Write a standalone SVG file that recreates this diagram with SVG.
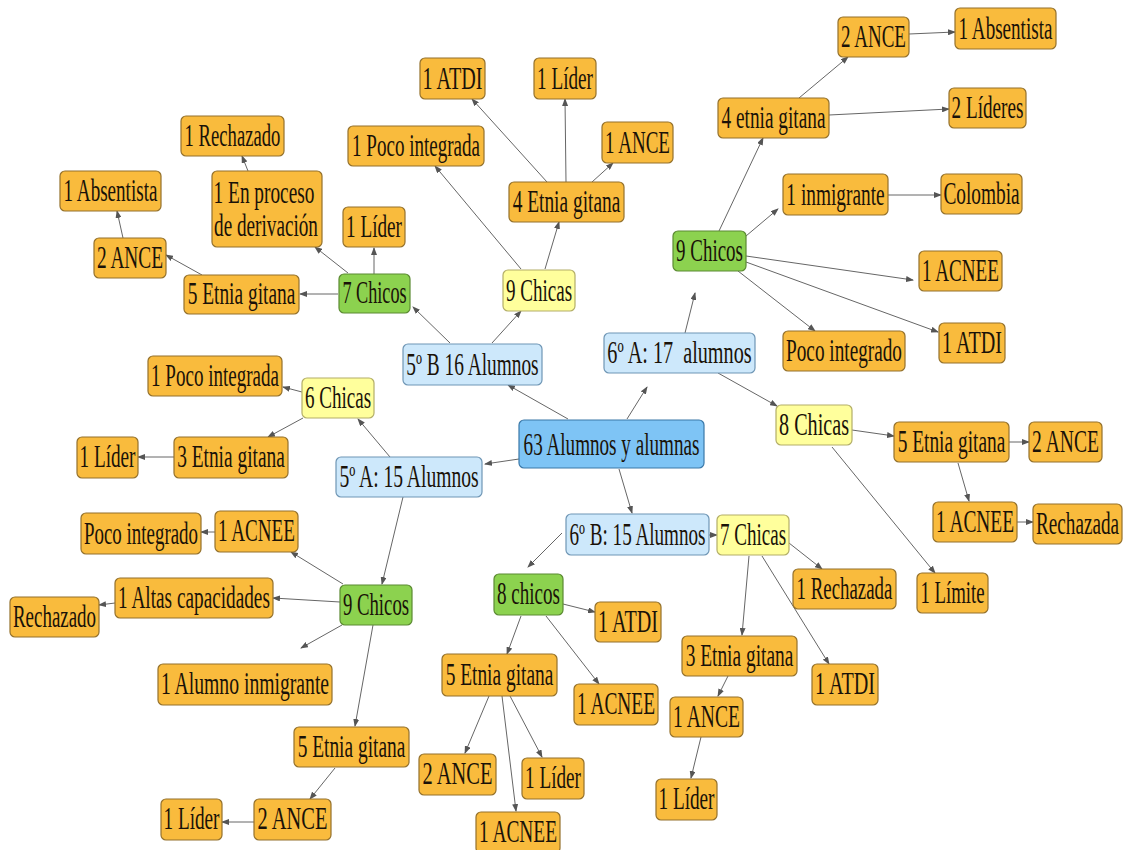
<svg xmlns="http://www.w3.org/2000/svg" width="1125" height="850" viewBox="0 0 1125 850">
<defs>
<style>
.o{fill:#F9BB3D;stroke:#94712C;stroke-width:1.2}
.g{fill:#8CD24F;stroke:#5B8A32;stroke-width:1.2}
.y{fill:#FFFF9C;stroke:#B3AE68;stroke-width:1.2}
.b{fill:#CDE8FB;stroke:#6F96B5;stroke-width:1.2}
.c{fill:#7EC4F5;stroke:#3A78A8;stroke-width:1.2}
text{font-family:"Liberation Serif","DejaVu Serif","Times New Roman",serif;font-size:31px;fill:#1a1208;text-anchor:middle}
.e line{stroke:#666;stroke-width:1;marker-end:url(#a)}
</style>
<marker id="a" markerWidth="8" markerHeight="6" refX="7" refY="3" orient="auto" markerUnits="userSpaceOnUse">
<path d="M0,0 L8,3 L0,6 z" fill="#555"/>
</marker>
</defs>
<rect width="1125" height="850" fill="#fff"/>
<g class="e" id="connectors">
<line x1="568" y1="419" x2="508" y2="385"/>
<line x1="627" y1="419" x2="647" y2="387"/>
<line x1="519" y1="459" x2="485" y2="464"/>
<line x1="619" y1="469" x2="632" y2="513"/>
<line x1="450" y1="343" x2="413" y2="307"/>
<line x1="492" y1="343" x2="521" y2="311"/>
<line x1="374" y1="274" x2="374" y2="248"/>
<line x1="348" y1="273" x2="315" y2="247"/>
<line x1="338" y1="294" x2="300" y2="294"/>
<line x1="248" y1="171" x2="242" y2="156"/>
<line x1="202" y1="275" x2="166" y2="255"/>
<line x1="123" y1="238" x2="117" y2="211"/>
<line x1="521" y1="269" x2="435" y2="166"/>
<line x1="545" y1="269" x2="559" y2="222"/>
<line x1="547" y1="182" x2="472" y2="99"/>
<line x1="566" y1="182" x2="565" y2="99"/>
<line x1="592" y1="182" x2="613" y2="163"/>
<line x1="685" y1="333" x2="695" y2="293"/>
<line x1="718" y1="373" x2="777" y2="406"/>
<line x1="719" y1="231" x2="763" y2="138"/>
<line x1="746" y1="236" x2="778" y2="209"/>
<line x1="746" y1="256" x2="913" y2="280"/>
<line x1="746" y1="262" x2="938" y2="332"/>
<line x1="738" y1="271" x2="815" y2="331"/>
<line x1="799" y1="98" x2="848" y2="57"/>
<line x1="829" y1="115" x2="949" y2="109"/>
<line x1="909" y1="34" x2="955" y2="32"/>
<line x1="888" y1="195" x2="941" y2="195"/>
<line x1="852" y1="430" x2="894" y2="436"/>
<line x1="832" y1="447" x2="935" y2="573"/>
<line x1="1009" y1="442" x2="1029" y2="442"/>
<line x1="958" y1="463" x2="969" y2="501"/>
<line x1="1017" y1="522" x2="1033" y2="522"/>
<line x1="709" y1="535" x2="717" y2="535"/>
<line x1="562" y1="533" x2="528" y2="567"/>
<line x1="789" y1="543" x2="822" y2="569"/>
<line x1="762" y1="556" x2="829" y2="664"/>
<line x1="749" y1="556" x2="742" y2="635"/>
<line x1="728" y1="676" x2="718" y2="696"/>
<line x1="701" y1="737" x2="691" y2="778"/>
<line x1="563" y1="604" x2="595" y2="612"/>
<line x1="521" y1="616" x2="507" y2="654"/>
<line x1="546" y1="616" x2="599" y2="684"/>
<line x1="489" y1="696" x2="465" y2="753"/>
<line x1="502" y1="696" x2="516" y2="811"/>
<line x1="510" y1="696" x2="542" y2="757"/>
<line x1="390" y1="457" x2="358" y2="419"/>
<line x1="403" y1="497" x2="382" y2="584"/>
<line x1="302" y1="392" x2="283" y2="387"/>
<line x1="303" y1="418" x2="268" y2="437"/>
<line x1="174" y1="457" x2="138" y2="457"/>
<line x1="343" y1="584" x2="291" y2="552"/>
<line x1="340" y1="602" x2="273" y2="598"/>
<line x1="342" y1="625" x2="301" y2="648"/>
<line x1="373" y1="625" x2="355" y2="726"/>
<line x1="115" y1="603" x2="99" y2="605"/>
<line x1="215" y1="532" x2="201" y2="532"/>
<line x1="335" y1="768" x2="310" y2="799"/>
<line x1="254" y1="822" x2="222" y2="822"/>
</g>
<g id="n1"><rect class="o" x="181" y="116" width="103" height="40" rx="5"/><text transform="translate(232.5,146) scale(0.63,1)" textLength="152" lengthAdjust="spacingAndGlyphs">1 Rechazado</text></g>
<g id="n2"><rect class="o" x="60" y="171" width="101" height="40" rx="5"/><text transform="translate(110.5,201) scale(0.63,1)" textLength="149" lengthAdjust="spacingAndGlyphs">1 Absentista</text></g>
<g id="n3"><rect class="o" x="212" y="171" width="110" height="76" rx="5"/><text transform="translate(264,203) scale(0.63,1)" textLength="160" lengthAdjust="spacingAndGlyphs">1 En proceso</text><text transform="translate(266,236) scale(0.63,1)" textLength="165" lengthAdjust="spacingAndGlyphs">de derivación</text></g>
<g id="n4"><rect class="o" x="94" y="238" width="72" height="40" rx="5"/><text transform="translate(130,268) scale(0.63,1)" textLength="105" lengthAdjust="spacingAndGlyphs">2 ANCE</text></g>
<g id="n5"><rect class="o" x="184" y="275" width="115" height="39" rx="5"/><text transform="translate(241.5,304) scale(0.63,1)" textLength="171" lengthAdjust="spacingAndGlyphs">5 Etnia gitana</text></g>
<g id="n6"><rect class="o" x="343" y="207" width="62" height="40" rx="5"/><text transform="translate(374,237) scale(0.63,1)" textLength="89" lengthAdjust="spacingAndGlyphs">1 Líder</text></g>
<g id="n7"><rect class="g" x="339" y="274" width="71" height="39" rx="5"/><text transform="translate(374.5,303) scale(0.63,1)" textLength="102" lengthAdjust="spacingAndGlyphs">7 Chicos</text></g>
<g id="n8"><rect class="o" x="420" y="58" width="65" height="41" rx="5"/><text transform="translate(452.5,89) scale(0.63,1)" textLength="95" lengthAdjust="spacingAndGlyphs">1 ATDI</text></g>
<g id="n9"><rect class="o" x="534" y="58" width="62" height="41" rx="5"/><text transform="translate(565,89) scale(0.63,1)" textLength="89" lengthAdjust="spacingAndGlyphs">1 Líder</text></g>
<g id="n10"><rect class="o" x="348" y="126" width="136" height="40" rx="5"/><text transform="translate(416,156) scale(0.63,1)" textLength="203" lengthAdjust="spacingAndGlyphs">1 Poco integrada</text></g>
<g id="n11"><rect class="o" x="602" y="122" width="71" height="41" rx="5"/><text transform="translate(637.5,153) scale(0.63,1)" textLength="103" lengthAdjust="spacingAndGlyphs">1 ANCE</text></g>
<g id="n12"><rect class="o" x="509" y="182" width="115" height="40" rx="5"/><text transform="translate(566.5,212) scale(0.63,1)" textLength="171" lengthAdjust="spacingAndGlyphs">4 Etnia gitana</text></g>
<g id="n13"><rect class="y" x="503" y="270" width="72" height="41" rx="5"/><text transform="translate(539,301) scale(0.63,1)" textLength="105" lengthAdjust="spacingAndGlyphs">9 Chicas</text></g>
<g id="n14"><rect class="g" x="673" y="231" width="73" height="40" rx="5"/><text transform="translate(709.5,261) scale(0.63,1)" textLength="106" lengthAdjust="spacingAndGlyphs">9 Chicos</text></g>
<g id="n15"><rect class="o" x="718" y="98" width="111" height="40" rx="5"/><text transform="translate(773.5,128) scale(0.63,1)" textLength="165" lengthAdjust="spacingAndGlyphs">4 etnia gitana</text></g>
<g id="n16"><rect class="o" x="838" y="17" width="71" height="40" rx="5"/><text transform="translate(873.5,47) scale(0.63,1)" textLength="103" lengthAdjust="spacingAndGlyphs">2 ANCE</text></g>
<g id="n17"><rect class="o" x="955" y="8" width="101" height="41" rx="5"/><text transform="translate(1005.5,39) scale(0.63,1)" textLength="149" lengthAdjust="spacingAndGlyphs">1 Absentista</text></g>
<g id="n18"><rect class="o" x="949" y="88" width="77" height="40" rx="5"/><text transform="translate(987.5,118) scale(0.63,1)" textLength="114" lengthAdjust="spacingAndGlyphs">2 Líderes</text></g>
<g id="n19"><rect class="o" x="783" y="174" width="105" height="41" rx="5"/><text transform="translate(835.5,205) scale(0.63,1)" textLength="156" lengthAdjust="spacingAndGlyphs">1 inmigrante</text></g>
<g id="n20"><rect class="o" x="941" y="174" width="81" height="40" rx="5"/><text transform="translate(981.5,204) scale(0.63,1)" textLength="121" lengthAdjust="spacingAndGlyphs">Colombia</text></g>
<g id="n21"><rect class="o" x="919" y="251" width="83" height="40" rx="5"/><text transform="translate(960.5,281) scale(0.63,1)" textLength="122" lengthAdjust="spacingAndGlyphs">1 ACNEE</text></g>
<g id="n22"><rect class="o" x="783" y="331" width="122" height="40" rx="5"/><text transform="translate(844,361) scale(0.63,1)" textLength="184" lengthAdjust="spacingAndGlyphs">Poco integrado</text></g>
<g id="n23"><rect class="o" x="939" y="323" width="66" height="40" rx="5"/><text transform="translate(972,353) scale(0.63,1)" textLength="95" lengthAdjust="spacingAndGlyphs">1 ATDI</text></g>
<g id="n24"><rect class="y" x="776" y="405" width="76" height="40" rx="5"/><text transform="translate(814,435) scale(0.63,1)" textLength="111" lengthAdjust="spacingAndGlyphs">8 Chicas</text></g>
<g id="n25"><rect class="o" x="894" y="422" width="115" height="40" rx="5"/><text transform="translate(951.5,452) scale(0.63,1)" textLength="171" lengthAdjust="spacingAndGlyphs">5 Etnia gitana</text></g>
<g id="n26"><rect class="o" x="1029" y="422" width="73" height="40" rx="5"/><text transform="translate(1065.5,452) scale(0.63,1)" textLength="106" lengthAdjust="spacingAndGlyphs">2 ANCE</text></g>
<g id="n27"><rect class="o" x="933" y="502" width="84" height="40" rx="5"/><text transform="translate(975,532) scale(0.63,1)" textLength="124" lengthAdjust="spacingAndGlyphs">1 ACNEE</text></g>
<g id="n28"><rect class="o" x="1033" y="504" width="89" height="40" rx="5"/><text transform="translate(1077.5,534) scale(0.63,1)" textLength="132" lengthAdjust="spacingAndGlyphs">Rechazada</text></g>
<g id="n29"><rect class="y" x="717" y="515" width="72" height="40" rx="5"/><text transform="translate(753,545) scale(0.63,1)" textLength="105" lengthAdjust="spacingAndGlyphs">7 Chicas</text></g>
<g id="n30"><rect class="b" x="403" y="344" width="139" height="41" rx="5"/><text transform="translate(472.5,375) scale(0.63,1)" textLength="210" lengthAdjust="spacingAndGlyphs">5º B 16 Alumnos</text></g>
<g id="n31"><rect class="b" x="604" y="333" width="151" height="40" rx="5"/><text transform="translate(679.5,363) scale(0.63,1)" textLength="229" lengthAdjust="spacingAndGlyphs" xml:space="preserve">6º A: 17  alumnos</text></g>
<g id="n32"><rect class="c" x="519" y="420" width="185" height="48" rx="5"/><text transform="translate(611.5,455) scale(0.63,1)" textLength="279" lengthAdjust="spacingAndGlyphs">63 Alumnos y alumnas</text></g>
<g id="n33"><rect class="b" x="336" y="457" width="146" height="40" rx="5"/><text transform="translate(409,487) scale(0.63,1)" textLength="221" lengthAdjust="spacingAndGlyphs">5º A: 15 Alumnos</text></g>
<g id="n34"><rect class="b" x="566" y="514" width="143" height="41" rx="5"/><text transform="translate(637.5,545) scale(0.63,1)" textLength="216" lengthAdjust="spacingAndGlyphs">6º B: 15 Alumnos</text></g>
<g id="n35"><rect class="y" x="302" y="378" width="72" height="40" rx="5"/><text transform="translate(338,408) scale(0.63,1)" textLength="105" lengthAdjust="spacingAndGlyphs">6 Chicas</text></g>
<g id="n36"><rect class="o" x="148" y="356" width="134" height="40" rx="5"/><text transform="translate(215,386) scale(0.63,1)" textLength="203" lengthAdjust="spacingAndGlyphs">1 Poco integrada</text></g>
<g id="n37"><rect class="o" x="77" y="437" width="61" height="41" rx="5"/><text transform="translate(107.5,467) scale(0.63,1)" textLength="89" lengthAdjust="spacingAndGlyphs">1 Líder</text></g>
<g id="n38"><rect class="o" x="174" y="437" width="114" height="41" rx="5"/><text transform="translate(231,467) scale(0.63,1)" textLength="171" lengthAdjust="spacingAndGlyphs">3 Etnia gitana</text></g>
<g id="n39"><rect class="o" x="81" y="513" width="120" height="41" rx="5"/><text transform="translate(141,544) scale(0.63,1)" textLength="181" lengthAdjust="spacingAndGlyphs">Poco integrado</text></g>
<g id="n40"><rect class="o" x="215" y="511" width="83" height="41" rx="5"/><text transform="translate(256.5,541) scale(0.63,1)" textLength="122" lengthAdjust="spacingAndGlyphs">1 ACNEE</text></g>
<g id="n41"><rect class="o" x="115" y="578" width="158" height="40" rx="5"/><text transform="translate(194,608) scale(0.63,1)" textLength="241" lengthAdjust="spacingAndGlyphs">1 Altas capacidades</text></g>
<g id="n42"><rect class="o" x="10" y="597" width="89" height="40" rx="5"/><text transform="translate(54.5,627) scale(0.63,1)" textLength="132" lengthAdjust="spacingAndGlyphs">Rechazado</text></g>
<g id="n43"><rect class="g" x="340" y="585" width="72" height="40" rx="5"/><text transform="translate(376,615) scale(0.63,1)" textLength="105" lengthAdjust="spacingAndGlyphs">9 Chicos</text></g>
<g id="n44"><rect class="o" x="158" y="664" width="174" height="41" rx="5"/><text transform="translate(245,694) scale(0.63,1)" textLength="267" lengthAdjust="spacingAndGlyphs">1 Alumno inmigrante</text></g>
<g id="n45"><rect class="o" x="294" y="727" width="115" height="40" rx="5"/><text transform="translate(351.5,757) scale(0.63,1)" textLength="171" lengthAdjust="spacingAndGlyphs">5 Etnia gitana</text></g>
<g id="n46"><rect class="o" x="254" y="799" width="77" height="41" rx="5"/><text transform="translate(292.5,829) scale(0.63,1)" textLength="111" lengthAdjust="spacingAndGlyphs">2 ANCE</text></g>
<g id="n47"><rect class="o" x="161" y="799" width="61" height="41" rx="5"/><text transform="translate(191.5,829) scale(0.63,1)" textLength="89" lengthAdjust="spacingAndGlyphs">1 Líder</text></g>
<g id="n48"><rect class="g" x="494" y="574" width="69" height="41" rx="5"/><text transform="translate(528.5,604) scale(0.63,1)" textLength="100" lengthAdjust="spacingAndGlyphs">8 chicos</text></g>
<g id="n49"><rect class="o" x="595" y="602" width="66" height="40" rx="5"/><text transform="translate(628,632) scale(0.63,1)" textLength="95" lengthAdjust="spacingAndGlyphs">1 ATDI</text></g>
<g id="n50"><rect class="o" x="442" y="654" width="115" height="42" rx="5"/><text transform="translate(499.5,685) scale(0.63,1)" textLength="171" lengthAdjust="spacingAndGlyphs">5 Etnia gitana</text></g>
<g id="n51"><rect class="o" x="574" y="684" width="84" height="41" rx="5"/><text transform="translate(616,714) scale(0.63,1)" textLength="124" lengthAdjust="spacingAndGlyphs">1 ACNEE</text></g>
<g id="n52"><rect class="o" x="419" y="754" width="77" height="41" rx="5"/><text transform="translate(457.5,784) scale(0.63,1)" textLength="111" lengthAdjust="spacingAndGlyphs">2 ANCE</text></g>
<g id="n53"><rect class="o" x="522" y="758" width="62" height="41" rx="5"/><text transform="translate(553,788) scale(0.63,1)" textLength="89" lengthAdjust="spacingAndGlyphs">1 Líder</text></g>
<g id="n54"><rect class="o" x="476" y="812" width="84" height="41" rx="5"/><text transform="translate(518,842) scale(0.63,1)" textLength="124" lengthAdjust="spacingAndGlyphs">1 ACNEE</text></g>
<g id="n55"><rect class="o" x="682" y="636" width="115" height="40" rx="5"/><text transform="translate(739.5,666) scale(0.63,1)" textLength="171" lengthAdjust="spacingAndGlyphs">3 Etnia gitana</text></g>
<g id="n56"><rect class="o" x="670" y="697" width="73" height="40" rx="5"/><text transform="translate(706.5,727) scale(0.63,1)" textLength="106" lengthAdjust="spacingAndGlyphs">1 ANCE</text></g>
<g id="n57"><rect class="o" x="656" y="779" width="61" height="41" rx="5"/><text transform="translate(686.5,809) scale(0.63,1)" textLength="89" lengthAdjust="spacingAndGlyphs">1 Líder</text></g>
<g id="n58"><rect class="o" x="793" y="569" width="103" height="40" rx="5"/><text transform="translate(844.5,599) scale(0.63,1)" textLength="152" lengthAdjust="spacingAndGlyphs">1 Rechazada</text></g>
<g id="n59"><rect class="o" x="917" y="573" width="71" height="40" rx="5"/><text transform="translate(952.5,603) scale(0.63,1)" textLength="102" lengthAdjust="spacingAndGlyphs">1 Límite</text></g>
<g id="n60"><rect class="o" x="812" y="664" width="66" height="41" rx="5"/><text transform="translate(845,694) scale(0.63,1)" textLength="95" lengthAdjust="spacingAndGlyphs">1 ATDI</text></g>
</svg>
